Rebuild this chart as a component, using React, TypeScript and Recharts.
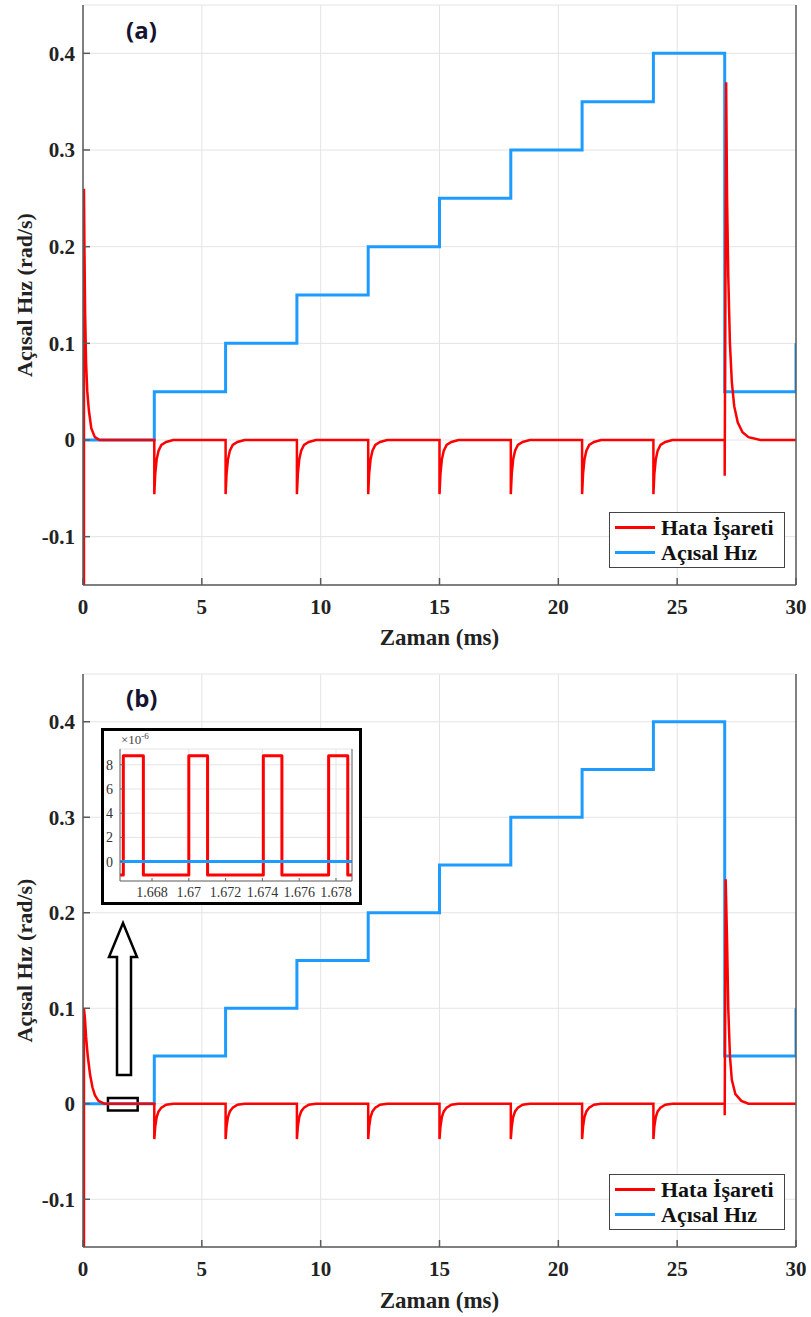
import React from 'react'
import {
  LineChart,
  Line,
  XAxis,
  YAxis,
  CartesianGrid,
  Legend,
  ReferenceArea,
} from 'recharts'

// time (ms), value (rad/s)
const hizA: [number, number][] = [
  [0, 0], [3, 0], [3, 0.05], [6, 0.05], [6, 0.1], [9, 0.1], [9, 0.15], [12, 0.15],
  [12, 0.2], [15, 0.2], [15, 0.25], [18, 0.25], [18, 0.3], [21, 0.3], [21, 0.35],
  [24, 0.35], [24, 0.4], [27, 0.4], [27, 0.05], [30, 0.05], [30, 0.1],
]

const hataA: [number, number][] = [
  [0.04, -0.2], [0.04, 0.26], [0.06, 0.2], [0.09, 0.13], [0.13, 0.08], [0.18, 0.05],
  [0.25, 0.03], [0.35, 0.012], [0.5, 0.003], [0.7, 0],
  [3, 0], [3, -0.056], [3.04, -0.035], [3.1, -0.02], [3.18, -0.011], [3.3, -0.005], [3.5, -0.002], [3.8, 0],
  [6, 0], [6, -0.056], [6.04, -0.035], [6.1, -0.02], [6.18, -0.011], [6.3, -0.005], [6.5, -0.002], [6.8, 0],
  [9, 0], [9, -0.056], [9.04, -0.035], [9.1, -0.02], [9.18, -0.011], [9.3, -0.005], [9.5, -0.002], [9.8, 0],
  [12, 0], [12, -0.056], [12.04, -0.035], [12.1, -0.02], [12.18, -0.011], [12.3, -0.005], [12.5, -0.002], [12.8, 0],
  [15, 0], [15, -0.056], [15.04, -0.035], [15.1, -0.02], [15.18, -0.011], [15.3, -0.005], [15.5, -0.002], [15.8, 0],
  [18, 0], [18, -0.056], [18.04, -0.035], [18.1, -0.02], [18.18, -0.011], [18.3, -0.005], [18.5, -0.002], [18.8, 0],
  [21, 0], [21, -0.056], [21.04, -0.035], [21.1, -0.02], [21.18, -0.011], [21.3, -0.005], [21.5, -0.002], [21.8, 0],
  [24, 0], [24, -0.056], [24.04, -0.035], [24.1, -0.02], [24.18, -0.011], [24.3, -0.005], [24.5, -0.002], [24.8, 0],
  [27, 0], [27, -0.037], [27.06, 0.37], [27.1, 0.25], [27.15, 0.17], [27.22, 0.1], [27.3, 0.06],
  [27.4, 0.035], [27.55, 0.018], [27.75, 0.008], [28.0, 0.003], [28.5, 0], [30, 0],
]

const hizB: [number, number][] = [
  [0, 0], [3, 0], [3, 0.05], [6, 0.05], [6, 0.1], [9, 0.1], [9, 0.15], [12, 0.15],
  [12, 0.2], [15, 0.2], [15, 0.25], [18, 0.25], [18, 0.3], [21, 0.3], [21, 0.35],
  [24, 0.35], [24, 0.4], [27, 0.4], [27, 0.05], [30, 0.05], [30, 0.1],
]

const hataB: [number, number][] = [
  [0.04, -0.2], [0.04, 0.1], [0.08, 0.09], [0.13, 0.07], [0.2, 0.05], [0.3, 0.03],
  [0.4, 0.017], [0.5, 0.009], [0.65, 0.003], [0.9, 0],
  [3, 0], [3, -0.037], [3.04, -0.024], [3.1, -0.014], [3.18, -0.008], [3.3, -0.004], [3.5, -0.001], [3.8, 0],
  [6, 0], [6, -0.037], [6.04, -0.024], [6.1, -0.014], [6.18, -0.008], [6.3, -0.004], [6.5, -0.001], [6.8, 0],
  [9, 0], [9, -0.037], [9.04, -0.024], [9.1, -0.014], [9.18, -0.008], [9.3, -0.004], [9.5, -0.001], [9.8, 0],
  [12, 0], [12, -0.037], [12.04, -0.024], [12.1, -0.014], [12.18, -0.008], [12.3, -0.004], [12.5, -0.001], [12.8, 0],
  [15, 0], [15, -0.037], [15.04, -0.024], [15.1, -0.014], [15.18, -0.008], [15.3, -0.004], [15.5, -0.001], [15.8, 0],
  [18, 0], [18, -0.037], [18.04, -0.024], [18.1, -0.014], [18.18, -0.008], [18.3, -0.004], [18.5, -0.001], [18.8, 0],
  [21, 0], [21, -0.037], [21.04, -0.024], [21.1, -0.014], [21.18, -0.008], [21.3, -0.004], [21.5, -0.001], [21.8, 0],
  [24, 0], [24, -0.037], [24.04, -0.024], [24.1, -0.014], [24.18, -0.008], [24.3, -0.004], [24.5, -0.001], [24.8, 0],
  [27, 0], [27, -0.012], [27.04, 0.235], [27.1, 0.17], [27.15, 0.1], [27.22, 0.05], [27.3, 0.025],
  [27.45, 0.01], [27.7, 0.003], [28, 0], [30, 0],
]

// inset: time (ms), value (x 1e-6)
const insetHata: [number, number][] = [
  [1.6662, -1.1], [1.66644, -1.1], [1.66644, 8.75], [1.66753, 8.75], [1.66753, -1.1],
  [1.67, -1.1], [1.67, 8.75], [1.67102, 8.75], [1.67102, -1.1],
  [1.67405, -1.1], [1.67405, 8.75], [1.67506, 8.75], [1.67506, -1.1],
  [1.6776, -1.1], [1.6776, 8.75], [1.67864, 8.75], [1.67864, -1.1], [1.679, -1.1],
]
const insetHiz: [number, number][] = [[1.6662, 0], [1.679, 0]]

const xTicks = [0, 5, 10, 15, 20, 25, 30]
const yTicks = [-0.1, 0, 0.1, 0.2, 0.3, 0.4]
const insetXTicks = [1.668, 1.67, 1.672, 1.674, 1.676, 1.678]
const insetYTicks = [0, 2, 4, 6, 8]

const seriesNames = ['Hata İşareti', 'Açısal Hız']

const RED = '#ff0000'
const BLUE = '#1e9bff'
const AXIS = '#5a5a5a'
const SERIF = "'Liberation Serif', 'Times New Roman', Times, serif"

const toPts = (arr: [number, number][]) => arr.map(([t, v]) => ({ t, v }))

const tickStyle = { fill: '#222', fontSize: 21, fontWeight: 700, fontFamily: SERIF }

const YTitle = ({ viewBox }: any) => (
  <text
    x={24}
    y={viewBox.y + viewBox.height / 2}
    transform={`rotate(-90 24 ${viewBox.y + viewBox.height / 2})`}
    textAnchor="middle"
    dominantBaseline="central"
    fontFamily={SERIF}
    fontWeight={700}
    fontSize={22}
    fill="#222"
  >
    Açısal Hız (rad/s)
  </text>
)

const XTitle = (dy: number) => ({ viewBox }: any) => (
  <text
    x={viewBox.x + viewBox.width / 2}
    y={viewBox.y + dy}
    textAnchor="middle"
    dominantBaseline="central"
    fontFamily={SERIF}
    fontWeight={700}
    fontSize={23}
    fill="#222"
  >
    Zaman (ms)
  </text>
)

const LegendBox = () => (
  <div
    style={{
      border: '1.5px solid #444',
      background: '#fff',
      padding: '2px 10px 2px 5px',
      fontFamily: SERIF,
      fontWeight: 700,
      fontSize: 22,
      color: '#111',
      lineHeight: '25px',
    }}
  >
    {seriesNames.map((n, i) => (
      <div key={n} style={{ display: 'flex', alignItems: 'center' }}>
        <span
          style={{
            display: 'inline-block',
            width: 40,
            height: 3,
            background: i === 0 ? RED : BLUE,
            marginRight: 6,
          }}
        />
        <span>{n}</span>
      </div>
    ))}
  </div>
)

interface PanelProps {
  hata: [number, number][]
  hiz: [number, number][]
  height: number
  xAxisHeight: number
  titleDy: number
  legendTop: number
  children?: React.ReactNode
}

const Panel = ({ hata, hiz, height, xAxisHeight, titleDy, legendTop, children }: PanelProps) => (
  <LineChart width={811} height={height} margin={{ top: 5, right: 0, bottom: 0, left: 0 }}>
    <CartesianGrid stroke="#e4e4e4" strokeWidth={1} xAxisId="b" yAxisId="l" />
    <XAxis
      xAxisId="b"
      dataKey="t"
      type="number"
      domain={[0, 30]}
      ticks={xTicks}
      allowDataOverflow
      height={xAxisHeight}
      stroke={AXIS}
      strokeWidth={1.5}
      tickSize={-7}
      tickMargin={21}
      tick={tickStyle}
      label={{ content: XTitle(titleDy) }}
    />
    <XAxis
      xAxisId="top"
      orientation="top"
      dataKey="t"
      type="number"
      domain={[0, 30]}
      ticks={xTicks}
      height={0}
      stroke={AXIS}
      strokeWidth={1.5}
      tickSize={-7}
      tick={false}
    />
    <YAxis
      yAxisId="l"
      type="number"
      domain={[-0.15, 0.45]}
      ticks={yTicks}
      allowDataOverflow
      width={83}
      stroke={AXIS}
      strokeWidth={1.5}
      tickSize={-7}
      tickMargin={15}
      tick={tickStyle}
      label={{ content: YTitle }}
    />
    <YAxis
      yAxisId="r"
      orientation="right"
      type="number"
      domain={[-0.15, 0.45]}
      ticks={yTicks}
      width={15}
      stroke={AXIS}
      strokeWidth={1.5}
      tickSize={-7}
      tick={false}
    />
    <Line
      xAxisId="b"
      yAxisId="l"
      data={toPts(hiz)}
      dataKey="v"
      name={seriesNames[1]}
      type="linear"
      stroke={BLUE}
      strokeWidth={3}
      dot={false}
      isAnimationActive={false}
    />
    <Line
      xAxisId="b"
      yAxisId="l"
      data={toPts(hata)}
      dataKey="v"
      name={seriesNames[0]}
      type="linear"
      stroke={RED}
      strokeWidth={2.5}
      dot={false}
      isAnimationActive={false}
    />
    {children}
    <Legend
      layout="vertical"
      align="center"
      verticalAlign="middle"
      content={<LegendBox />}
      wrapperStyle={{ left: 609, top: legendTop, width: 'auto', height: 'auto' }}
    />
  </LineChart>
)

const insetTick = { fill: '#333', fontSize: 14, fontFamily: SERIF }

const Inset = () => (
  <div
    style={{
      position: 'absolute',
      left: 101,
      top: 728,
      width: 261,
      height: 177,
      boxSizing: 'border-box',
      border: '3px solid #000',
      background: '#fff',
    }}
  >
    <div
      style={{
        position: 'absolute',
        left: 17,
        top: 0,
        fontFamily: SERIF,
        fontSize: 13,
        color: '#444',
      }}
    >
      ×10<sup style={{ fontSize: 9 }}>-6</sup>
    </div>
    <LineChart width={255} height={171} margin={{ top: 18, right: 0, bottom: 0, left: 0 }}>
      <CartesianGrid stroke="#e4e4e4" xAxisId="b" yAxisId="l" />
      <XAxis
        xAxisId="b"
        dataKey="t"
        type="number"
        domain={[1.66626, 1.67887]}
        ticks={insetXTicks}
        allowDataOverflow
        height={21}
        stroke="#666"
        tickSize={-3}
        tickMargin={9}
        tick={insetTick}
      />
      <XAxis
        xAxisId="top"
        orientation="top"
        dataKey="t"
        type="number"
        domain={[1.66626, 1.67887]}
        ticks={insetXTicks}
        height={0}
        stroke="#666"
        tickSize={-3}
        tick={false}
      />
      <YAxis
        yAxisId="l"
        type="number"
        domain={[-1.6, 9.3]}
        ticks={insetYTicks}
        allowDataOverflow
        width={16}
        stroke="#666"
        tickSize={-3}
        tickMargin={10}
        tick={insetTick}
      />
      <YAxis
        yAxisId="r"
        orientation="right"
        type="number"
        domain={[-1.6, 9.3]}
        ticks={insetYTicks}
        width={7}
        stroke="#666"
        tickSize={-3}
        tick={false}
      />
      <Line
        xAxisId="b"
        yAxisId="l"
        data={toPts(insetHata)}
        dataKey="v"
        type="linear"
        stroke={RED}
        strokeWidth={3}
        strokeLinejoin="round"
        dot={false}
        isAnimationActive={false}
      />
      <Line
        xAxisId="b"
        yAxisId="l"
        data={toPts(insetHiz)}
        dataKey="v"
        type="linear"
        stroke={BLUE}
        strokeWidth={3}
        dot={false}
        isAnimationActive={false}
      />
    </LineChart>
  </div>
)

const panelLabel = (top: number): React.CSSProperties => ({
  position: 'absolute',
  left: 126,
  top,
  fontFamily: '"Open Sans", "Liberation Sans", sans-serif',
  fontWeight: 700,
  fontSize: 24,
  color: '#141430',
})

export default function App() {
  return (
    <div
      style={{
        position: 'absolute',
        left: 0,
        top: 0,
        width: 811,
        height: 1317,
        background: '#fff',
        overflow: 'hidden',
      }}
    >
      <div style={{ position: 'absolute', left: 0, top: 0 }}>
        <Panel hata={hataA} hiz={hizA} height={660} xAxisHeight={75} titleDy={52} legendTop={512} />
      </div>
      <div style={{ position: 'absolute', left: 0, top: 669 }}>
        <Panel hata={hataB} hiz={hizB} height={648} xAxisHeight={70} titleDy={53} legendTop={505}>
          <ReferenceArea
            xAxisId="b"
            yAxisId="l"
            x1={1.05}
            x2={2.3}
            y1={-0.007}
            y2={0.006}
            stroke="#000"
            strokeWidth={2.5}
            fill="#fff"
            fillOpacity={1}
            ifOverflow="visible"
          />
        </Panel>
      </div>
      <div style={panelLabel(13)}>(a)</div>
      <div style={panelLabel(681)}>(b)</div>
      <Inset />
      <svg
        width={811}
        height={1317}
        style={{ position: 'absolute', left: 0, top: 0, pointerEvents: 'none' }}
      >
        <polygon
          points="123,923 137,957 131,957 131,1075 117,1075 117,957 109,957"
          fill="#fff"
          stroke="#000"
          strokeWidth={2.5}
          strokeLinejoin="miter"
        />
      </svg>
    </div>
  )
}
